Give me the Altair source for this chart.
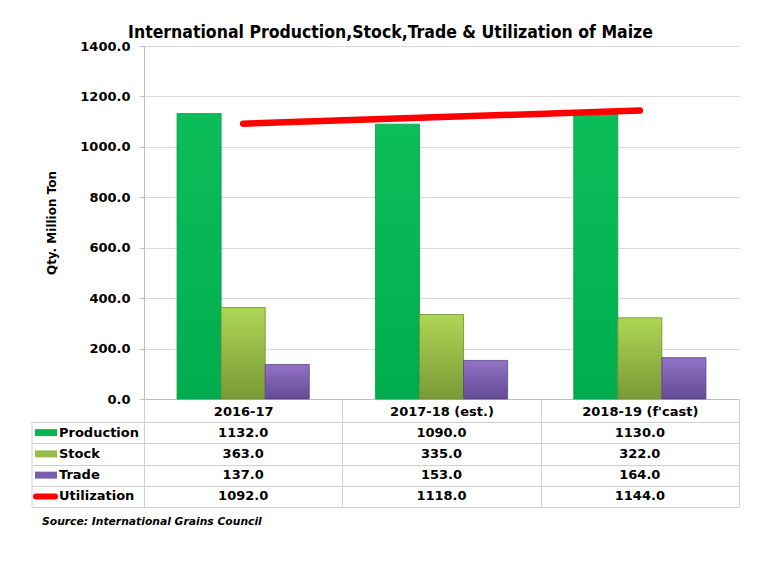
import altair as alt
import pandas as pd

categories = ["2016-17", "2017-18 (est.)", "2018-19 (f'cast)"]
production = [1132.0, 1090.0, 1130.0]
stock = [363.0, 335.0, 322.0]
trade = [137.0, 153.0, 164.0]
utilization = [1092.0, 1118.0, 1144.0]
series_names = ["Production", "Stock", "Trade", "Utilization"]
bar_series = ["Production", "Stock", "Trade"]
y_ticks = [0, 200, 400, 600, 800, 1000, 1200, 1400]

rows = []
for name, vals in zip(series_names, [production, stock, trade, utilization]):
    for c, v in zip(categories, vals):
        rows.append({"category": c, "series": name, "value": v})
df = pd.DataFrame(rows)
names_df = pd.DataFrame({"series": series_names})

FONT = "DejaVu Sans"
TFONT = "DejaVu Sans Condensed"
W, H, TH = 595, 353, 85
LINE = "#D0D0D0"

grad = {
    "Production": ("#0CBE5A", "#00AD4E", "#0A9A45"),
    "Stock": ("#AED655", "#789A36", "#6F8E30"),
    "Trade": ("#9272C6", "#654A95", "#5A4386"),
}
sym_color = {"Production": "#08B552", "Stock": "#96BC48", "Trade": "#7A5CB0"}


def gradient(top, bottom):
    return alt.Gradient(
        gradient="linear",
        stops=[alt.GradientStop(color=top, offset=0), alt.GradientStop(color=bottom, offset=1)],
        x1=0, x2=0, y1=0, y2=1,
    )


x_main = alt.X(
    "category:N", sort=categories,
    scale=alt.Scale(domain=categories, paddingInner=0, paddingOuter=0),
    axis=alt.Axis(title=None, labelFont=FONT, labelFontWeight="bold", labelFontSize=13,
                  labelColor="black", labelAngle=0, labelPadding=-17, tickBand="extent",
                  tickSize=23, tickColor=LINE, domainColor="#BFBFBF"),
)
y_main = alt.Y(
    "value:Q", scale=alt.Scale(domain=[0, 1400], nice=False),
    axis=alt.Axis(values=y_ticks, format=".1f", title="Qty. Million Ton", titleFont=FONT,
                  titleFontSize=12, titleFontWeight="bold", titleColor="black", titlePadding=21,
                  labelFont=FONT, labelFontSize=13, labelFontWeight="bold", labelColor="black",
                  labelPadding=9, tickSize=5, tickColor="#BFBFBF", domainColor="#BFBFBF",
                  gridColor="#D9D9D9"),
)
xoff = alt.XOffset("series:N", scale=alt.Scale(domain=bar_series, paddingInner=0, paddingOuter=0.75))

layers = []
for s in bar_series:
    top, bottom, edge = grad[s]
    layers.append(
        alt.Chart(df).transform_filter(alt.datum.series == s)
        .mark_bar(color=gradient(top, bottom), stroke=edge, strokeWidth=0.8)
        .encode(x=x_main, xOffset=xoff, y=y_main)
    )
layers.append(
    alt.Chart(df).transform_filter(alt.datum.series == "Utilization")
    .mark_line(color="#FF0000", strokeWidth=6.5, strokeCap="round")
    .encode(x=x_main, y=y_main)
)
main = alt.layer(*layers).properties(width=W, height=H)

x_tab = alt.X(
    "category:N", sort=categories,
    scale=alt.Scale(domain=categories, paddingInner=0, paddingOuter=0),
    axis=alt.Axis(title=None, labels=False, ticks=False, domain=False, grid=True,
                  tickBand="extent", gridColor=LINE, orient="top"),
)
y_tab = alt.Y(
    "series:N", sort=series_names,
    scale=alt.Scale(domain=series_names, paddingInner=0, paddingOuter=0),
    axis=alt.Axis(title=None, labels=False, domain=False, grid=True, tickBand="extent",
                  ticks=True, tickSize=112, tickColor=LINE, gridColor=LINE),
)
y_tab_plain = alt.Y("series:N", sort=series_names,
                    scale=alt.Scale(domain=series_names, paddingInner=0, paddingOuter=0))

values_text = alt.Chart(df).mark_text(font=FONT, fontWeight="bold", fontSize=13, color="black").encode(
    x=x_tab, y=y_tab, text=alt.Text("value:Q", format=".1f")
)
row_labels = alt.Chart(names_df).mark_text(font=FONT, fontWeight="bold", fontSize=13, color="black",
                                            align="left").encode(
    x=alt.value(-85), y=y_tab_plain, text="series:N"
)
symbols = alt.Chart(names_df).transform_filter(alt.datum.series != "Utilization").mark_rule(
    strokeWidth=7, strokeCap="butt").encode(
    x=alt.value(-109), x2=alt.value(-87), y=y_tab_plain,
    color=alt.Color("series:N", scale=alt.Scale(domain=bar_series,
                                                range=[sym_color[s] for s in bar_series]), legend=None),
)
util_symbol = alt.Chart(names_df).transform_filter(alt.datum.series == "Utilization").mark_rule(
    strokeWidth=6, strokeCap="round", color="#FF0000").encode(
    x=alt.value(-108), x2=alt.value(-89), y=y_tab_plain
)
left_border = alt.Chart(pd.DataFrame({"k": [0]})).mark_rule(color=LINE, strokeWidth=1).encode(
    x=alt.value(-112), y=alt.value(0), y2=alt.value(TH)
)

table = alt.layer(values_text, row_labels, symbols, util_symbol, left_border).properties(
    width=W, height=TH,
    title=alt.TitleParams("Source: International Grains Council", orient="bottom", anchor="start",
                          frame="group", dx=-102, offset=9, font=FONT, fontSize=10.75,
                          fontStyle="italic", fontWeight="bold", color="black"),
)

chart = alt.vconcat(main, table, spacing=23, bounds="flush").properties(
    title=alt.TitleParams("International Production,Stock,Trade & Utilization of Maize",
                          font=TFONT, fontSize=17.5, fontWeight="bold", color="black",
                          anchor="middle", offset=-1, dx=5),
    padding={"left": 23, "top": 15, "right": 5, "bottom": 5},
).configure_view(stroke=None).resolve_scale(color="independent")

chart.save("out.html", embed_options={"renderer": "svg", "actions": False})
